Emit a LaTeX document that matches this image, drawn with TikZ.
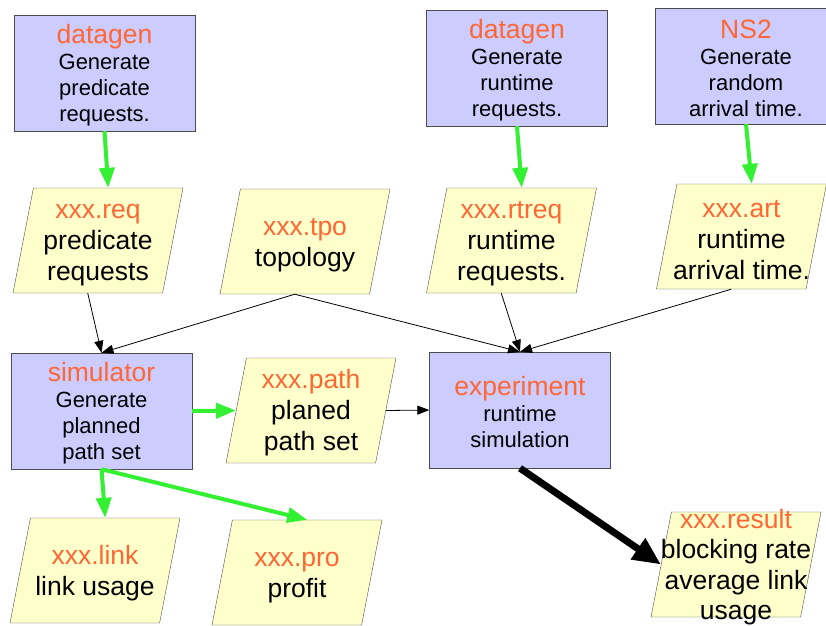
\documentclass[tikz,border=0pt]{standalone}
\usepackage{fontspec}
\setmainfont{Liberation Sans}
\usetikzlibrary{arrows.meta,shapes.geometric}

\definecolor{procblue}{HTML}{CCCCFF}
\definecolor{fileyellow}{HTML}{FFFFCC}
\definecolor{hdrorange}{HTML}{FF6633}
\definecolor{flowgreen}{HTML}{33F033}
\newcommand{\hdr}[1]{{\color{hdrorange}\fontsize{26.5}{28}\selectfont\rule{0pt}{24pt}#1}}

\begin{document}
\begin{tikzpicture}[x=1pt, y=-1pt,
  progbox/.style={draw=black!70, fill=procblue, align=center, inner sep=0pt,
    minimum width=181pt, minimum height=116pt, font=\fontsize{22}{26}\selectfont},
  filebox/.style={trapezium, trapezium left angle=79, trapezium right angle=101,
    trapezium stretches body, draw=black!70, fill=fileyellow, inner sep=0pt,
    text height=105pt, text depth=0pt, minimum width=170pt},
  filetext/.style={align=center, inner sep=0pt, font=\fontsize{26.5}{31}\selectfont},
  gen/.style={-{Triangle[length=20pt, width=15pt]}, draw=flowgreen, line width=4pt},
  arr/.style={-{Triangle[length=12pt, width=9pt]}, line width=0.8pt},
  big/.style={-{Triangle[length=28pt, width=24pt]}, line width=7pt}
]
  \useasboundingbox (0,0) rectangle (826,625);

  \node[progbox] (gen1) at (104.5,73) {\hdr{datagen}\\Generate\\predicate\\requests.};
  \node[progbox] (gen2) at (517,68) {\hdr{datagen}\\Generate\\runtime\\requests.};
  \node[progbox] (ns) at (746,66) {\hdr{NS2}\\Generate\\random\\arrival time.};

  \node[filebox] (req) at (98,240.5) {};
  \node[filetext] (reqtext) at (req) {\hdr{xxx.req}\\predicate\\requests};
  \node[filebox] (tpo) at (305,241.5) {};
  \node[filetext] (tpotext) at (tpo) {\hdr{xxx.tpo}\\topology};
  \node[filebox] (rtreq) at (511.5,240.5) {};
  \node[filetext] (rtreqtext) at (rtreq) {\hdr{xxx.rtreq}\\runtime\\requests.};
  \node[filebox] (art) at (741.5,236.5) {};
  \node[filetext] (arttext) at (art) {\hdr{xxx.art}\\runtime\\arrival time.};

  \node[progbox] (sim) at (101.5,411) {\hdr{simulator}\\Generate\\planned\\path set};
  \node[filebox] (path) at (311,410.5) {};
  \node[filetext] (pathtext) at (path) {\hdr{xxx.path}\\planed\\path set};
  \node[progbox] (exp) at (520,410) {\hdr{experiment}\\runtime\\simulation};

  \node[filebox] (link) at (95,570.5) {};
  \node[filetext] (linktext) at (link) {\hdr{xxx.link}\\link usage};
  \node[filebox] (pro) at (297,572.5) {};
  \node[filetext] (protext) at (pro) {\hdr{xxx.pro}\\profit};
  \node[filebox] (res) at (736,564.5) {};
  \node[filetext, font=\fontsize{26.5}{30.5}\selectfont] (restext) at (res)
    {\hdr{xxx.result}\\blocking rate\\average link\\usage};

  \draw[gen] (gen1.south) -- (req.top side);
  \draw[gen] (gen2.south) -- (rtreq.top side);
  \draw[gen] (ns.south) -- (art.top side);

  \draw[arr] (req.bottom side) -- (sim.north);
  \draw[arr] (tpo.bottom side) -- (sim.north);
  \draw[arr] (tpo.bottom side) -- (exp.north);
  \draw[arr] (rtreq.bottom side) -- (exp.north);
  \draw[arr] (art.bottom side) -- (exp.north);

  \draw[gen] (sim.east) -- (path.left side);
  \draw[arr] (path.right side) -- (exp.west);
  \draw[gen] (sim.south) -- (link.top side);
  \draw[gen] (sim.south) -- (pro.top side);
  \draw[big] (exp.south) -- (res.left side);
\end{tikzpicture}
\end{document}
